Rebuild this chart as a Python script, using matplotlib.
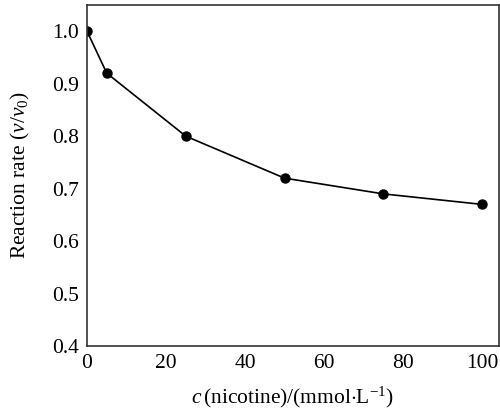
import numpy as np
import matplotlib
matplotlib.use('Agg')
import matplotlib.pyplot as plt

plt.rcParams['font.family'] = 'Liberation Serif'
plt.rcParams['mathtext.fontset'] = 'custom'
plt.rcParams['mathtext.rm'] = 'Liberation Serif'
plt.rcParams['mathtext.it'] = 'Liberation Serif:italic'

# nicotine concentration vs relative reaction rate
conc = [0, 5, 25, 50, 75, 100]
rate = [1.0, 0.92, 0.80, 0.72, 0.69, 0.67]
xticks = [0, 20, 40, 60, 80, 100]
yticks = [0.4, 0.5, 0.6, 0.7, 0.8, 0.9, 1.0]

fig = plt.figure(figsize=(5, 4.12), dpi=100)
ax = fig.add_axes([0.174, 0.160, 0.824, 0.828])

ax.plot(conc, rate, color='black', linewidth=1.2, marker='o', markersize=6.5)

ax.set_xlim(0, 104.3)
ax.set_ylim(0.4, 1.05)
ax.set_xticks(xticks)
ax.set_yticks(yticks)
ax.set_yticklabels(['%.1f' % v for v in yticks])
ax.tick_params(length=0, labelsize=15.5, pad=6)
ax.tick_params(axis='x', pad=6)
for s in ax.spines.values():
    s.set_linewidth(1.2)
    s.set_color('#333333')

ax.set_xlabel(r'$c\,$(nicotine)/(mmol$\cdot$L$^{-1}$)', fontsize=15.5, labelpad=8)
ax.set_ylabel(r'Reaction rate ($v$/$v_0$)', fontsize=15.5, labelpad=14)

fig.savefig('out.png', dpi=100)
